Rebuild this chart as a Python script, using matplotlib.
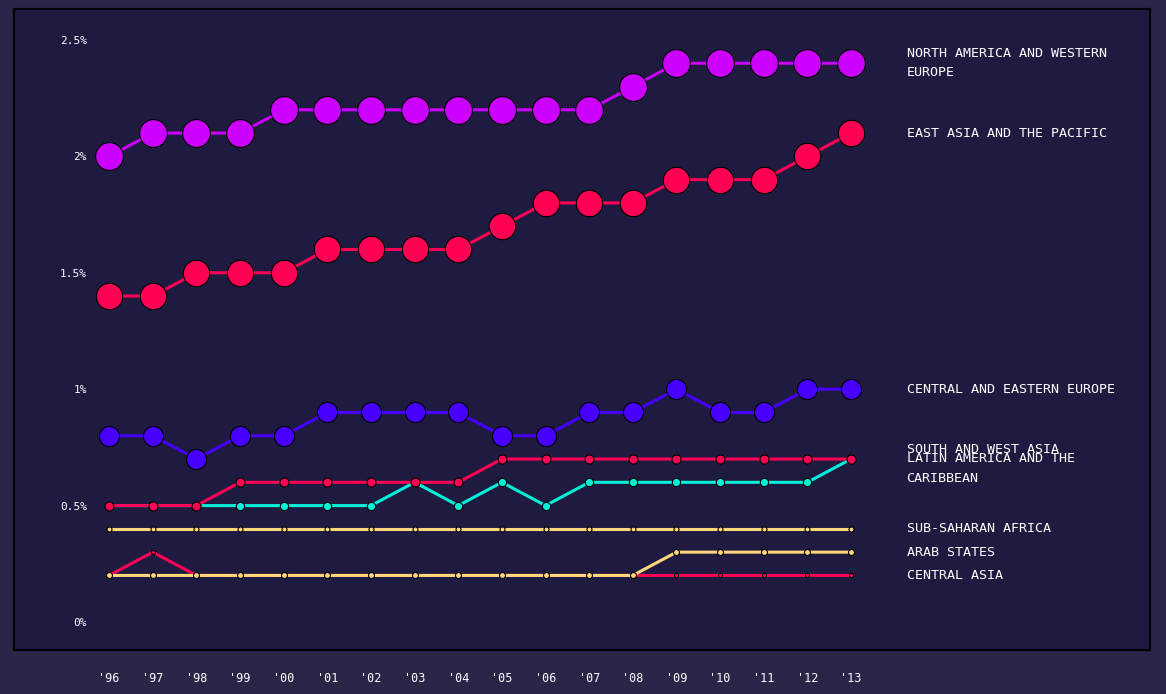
import matplotlib.pyplot as plt

years = list(range(1996, 2014))
year_labels = ["'96", "'97", "'98", "'99", "'00", "'01", "'02", "'03", "'04",
               "'05", "'06", "'07", "'08", "'09", "'10", "'11", "'12", "'13"]

na_we = [2.0, 2.1, 2.1, 2.1, 2.2, 2.2, 2.2, 2.2, 2.2, 2.2, 2.2, 2.2, 2.3, 2.4, 2.4, 2.4, 2.4, 2.4]
east_asia = [1.4, 1.4, 1.5, 1.5, 1.5, 1.6, 1.6, 1.6, 1.6, 1.7, 1.8, 1.8, 1.8, 1.9, 1.9, 1.9, 2.0, 2.1]
ce_europe = [0.8, 0.8, 0.7, 0.8, 0.8, 0.9, 0.9, 0.9, 0.9, 0.8, 0.8, 0.9, 0.9, 1.0, 0.9, 0.9, 1.0, 1.0]
sw_asia = [0.5, 0.5, 0.5, 0.6, 0.6, 0.6, 0.6, 0.6, 0.6, 0.7, 0.7, 0.7, 0.7, 0.7, 0.7, 0.7, 0.7, 0.7]
latam = [0.5, 0.5, 0.5, 0.5, 0.5, 0.5, 0.5, 0.6, 0.5, 0.6, 0.5, 0.6, 0.6, 0.6, 0.6, 0.6, 0.6, 0.7]
ss_africa = [0.4] * 18
arab = [0.2, 0.2, 0.2, 0.2, 0.2, 0.2, 0.2, 0.2, 0.2, 0.2, 0.2, 0.2, 0.2, 0.3, 0.3, 0.3, 0.3, 0.3]
c_asia = [0.2, 0.3, 0.2, 0.2, 0.2, 0.2, 0.2, 0.2, 0.2, 0.2, 0.2, 0.2, 0.2, 0.2, 0.2, 0.2, 0.2, 0.2]

# name, values, colour, marker size (pt), label nudge (pt)
series = [
    ("NORTH AMERICA AND WESTERN\nEUROPE", na_we, "#cc00ff", 20, 0),
    ("EAST ASIA AND THE PACIFIC", east_asia, "#ff0055", 19, 0),
    ("CENTRAL AND EASTERN EUROPE", ce_europe, "#4700ff", 14.5, 0),
    ("SOUTH AND WEST ASIA", sw_asia, "#ff0055", 6.5, 7),
    ("LATIN AMERICA AND THE\nCARIBBEAN", latam, "#00f0d8", 6, -7),
    ("SUB-SAHARAN AFRICA", ss_africa, "#ffd67a", 3.6, 0),
    ("ARAB STATES", arab, "#ffd67a", 4.3, 0),
    ("CENTRAL ASIA", c_asia, "#ff0055", 3, 0),
]

bg_out = "#2b2547"
bg_in = "#1f1a40"

fig = plt.figure(figsize=(11.66, 6.94), dpi=100, facecolor=bg_out)
ax = fig.add_axes([14 / 1166, 44 / 694, 1136 / 1166, 641 / 694], facecolor=bg_in)

n = len(series)
for i, (name, vals, color, ms, nudge) in enumerate(series):
    z = 10 + (n - i) * 2
    ax.plot(years, vals, color=color, lw=2.2, zorder=z, solid_capstyle="butt")
    ax.plot(years, vals, "o", color=color, ms=ms, mec="black", mew=0.8,
            zorder=z + 1, ls="none")
    ax.annotate(name, (years[-1], vals[-1]), xytext=(40, nudge),
                textcoords="offset points", va="center", ha="left",
                color="white", fontsize=9.6, family="DejaVu Sans Mono",
                linespacing=1.65, annotation_clip=False)

ax.set_xlim(1993.82, 2019.85)
ax.set_ylim(-0.1203, 2.633)

ax.set_yticks([0, 0.5, 1, 1.5, 2, 2.5])
ax.set_yticklabels(["0%", "0.5%", "1%", "1.5%", "2%", "2.5%"],
                   family="DejaVu Sans Mono", fontsize=8, color="white")
ax.tick_params(axis="y", length=0, pad=-52.6)
for lab in ax.get_yticklabels():
    lab.set_horizontalalignment("right")

ax.set_xticks(years)
ax.set_xticklabels(year_labels, family="DejaVu Sans Mono", fontsize=8.5,
                   color="white")
ax.tick_params(axis="x", length=0, pad=16)

for sp in ax.spines.values():
    sp.set_color("black")
    sp.set_linewidth(1.5)

fig.savefig("out.png", dpi=100, facecolor=bg_out)
